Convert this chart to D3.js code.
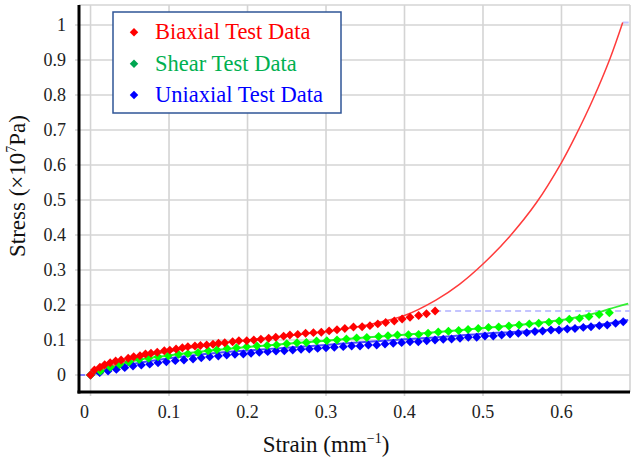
<!DOCTYPE html>
<html>
<head>
<meta charset="utf-8">
<script src="https://cdn.jsdelivr.net/npm/d3@7"></script>
<style>
  html, body { margin: 0; padding: 0; background: #fff; }
  svg { display: block; }
  svg text { font-family: "Liberation Serif", "Times New Roman", Times, "DejaVu Serif", serif; }
</style>
</head>
<body>
<div id="chart"></div>
<script>
// measured test data: [strain, stress (x10^7 Pa)]
const biaxialData = [
  [0, 0], [0.005, 0.014], [0.012, 0.022], [0.018, 0.029], [0.025, 0.035], [0.032, 0.040],
  [0.039, 0.043], [0.048, 0.048], [0.055, 0.052], [0.063, 0.055], [0.070, 0.060], [0.077, 0.062],
  [0.085, 0.065], [0.094, 0.069], [0.101, 0.071], [0.109, 0.074], [0.117, 0.078], [0.124, 0.081],
  [0.133, 0.083], [0.140, 0.084], [0.148, 0.086], [0.156, 0.088], [0.163, 0.0905], [0.171, 0.092],
  [0.181, 0.095], [0.189, 0.098], [0.199, 0.098], [0.208, 0.100], [0.217, 0.102], [0.227, 0.105],
  [0.236, 0.108], [0.246, 0.111], [0.254, 0.114], [0.264, 0.116], [0.274, 0.119], [0.284, 0.121],
  [0.294, 0.122], [0.304, 0.126], [0.314, 0.129], [0.324, 0.133], [0.335, 0.137], [0.346, 0.138],
  [0.356, 0.141], [0.366, 0.146], [0.376, 0.150], [0.387, 0.154], [0.397, 0.160], [0.407, 0.165],
  [0.418, 0.170], [0.428, 0.175], [0.439, 0.183]
];

const shearData = [
  [0, 0], [0.0125, 0.011], [0.025, 0.022], [0.037, 0.030], [0.049, 0.037], [0.062, 0.044],
  [0.074, 0.048], [0.086, 0.052], [0.099, 0.055], [0.112, 0.059], [0.124, 0.061], [0.137, 0.064],
  [0.150, 0.069], [0.161, 0.072], [0.174, 0.076], [0.186, 0.078], [0.199, 0.081], [0.212, 0.083],
  [0.225, 0.084], [0.237, 0.086], [0.250, 0.089], [0.263, 0.092], [0.275, 0.093], [0.288, 0.097],
  [0.301, 0.098], [0.314, 0.100], [0.326, 0.103], [0.339, 0.106], [0.352, 0.107], [0.367, 0.110],
  [0.379, 0.112], [0.391, 0.114], [0.405, 0.115], [0.418, 0.116], [0.430, 0.119], [0.443, 0.123],
  [0.456, 0.125], [0.469, 0.127], [0.481, 0.130], [0.494, 0.133], [0.507, 0.136], [0.520, 0.137],
  [0.533, 0.140], [0.546, 0.143], [0.559, 0.146], [0.571, 0.148], [0.584, 0.151], [0.597, 0.154],
  [0.610, 0.159], [0.623, 0.162], [0.635, 0.167], [0.648, 0.173], [0.661, 0.178]
];

const uniaxialData = [
  [0, 0], [0.0117, 0.0067], [0.0223, 0.0114], [0.0329, 0.016], [0.0436, 0.021], [0.0541, 0.0257],
  [0.0647, 0.0286], [0.0754, 0.031], [0.086, 0.035], [0.0966, 0.038], [0.108, 0.041], [0.119, 0.043],
  [0.1306, 0.0457], [0.1411, 0.0495], [0.1518, 0.052], [0.1628, 0.0543], [0.1735, 0.0571], [0.184, 0.059],
  [0.1947, 0.060], [0.2045, 0.062], [0.215, 0.065], [0.2257, 0.0667], [0.2363, 0.0686], [0.2469, 0.0695],
  [0.2576, 0.0714], [0.2682, 0.0733], [0.2787, 0.0743], [0.2894, 0.076], [0.300, 0.078], [0.3106, 0.079],
  [0.322, 0.081], [0.3327, 0.083], [0.3433, 0.083], [0.354, 0.0857], [0.3646, 0.0857], [0.3752, 0.0886],
  [0.3857, 0.0905], [0.3964, 0.0924], [0.407, 0.0952], [0.4176, 0.0952], [0.4283, 0.098], [0.4389, 0.100],
  [0.4494, 0.102], [0.460, 0.1029], [0.4707, 0.1048], [0.4813, 0.1076], [0.492, 0.1076], [0.5025, 0.1114],
  [0.5131, 0.1114], [0.5238, 0.1143], [0.5344, 0.1171], [0.545, 0.119], [0.5557, 0.121], [0.5662, 0.124],
  [0.576, 0.1257], [0.5866, 0.1286], [0.5968, 0.1286], [0.6074, 0.1314], [0.6172, 0.133], [0.6278, 0.136],
  [0.6376, 0.138], [0.6482, 0.141], [0.6583, 0.143], [0.669, 0.1476], [0.6787, 0.152]
];

// fitted model curves
const biaxialFit = [
  [0, 0], [0.02, 0.021], [0.05, 0.043], [0.1, 0.067], [0.15, 0.086], [0.2, 0.1], [0.25, 0.112],
  [0.3, 0.124], [0.35, 0.142], [0.4, 0.17], [0.44, 0.214], [0.47, 0.259], [0.5, 0.317], [0.534, 0.396],
  [0.568, 0.492], [0.6, 0.607], [0.619, 0.688], [0.64, 0.787], [0.662, 0.905], [0.678, 1.007]
];
const shearFit = [
  [0, 0], [0.05, 0.038], [0.1, 0.056], [0.15, 0.069], [0.2, 0.08], [0.25, 0.089], [0.3, 0.098],
  [0.35, 0.107], [0.4, 0.115], [0.45, 0.124], [0.5, 0.134], [0.55, 0.144], [0.6, 0.157], [0.63, 0.17],
  [0.648, 0.179], [0.66, 0.188], [0.685, 0.204]
];
const uniaxialFit = [
  [0, 0], [0.05, 0.03], [0.1, 0.048], [0.16, 0.063], [0.2, 0.07], [0.25, 0.078], [0.3, 0.086],
  [0.34, 0.093], [0.4, 0.102], [0.45, 0.109], [0.5, 0.118], [0.55, 0.124], [0.6, 0.132], [0.65, 0.144],
  [0.685, 0.157]
];

const xTicks = [0, 0.1, 0.2, 0.3, 0.4, 0.5, 0.6];
const yTicks = [0, 0.1, 0.2, 0.3, 0.4, 0.5, 0.6, 0.7, 0.8, 0.9, 1];
const legendItems = [
  { label: "Biaxial Test Data", marker: "#ff0000", text: "#ff0000" },
  { label: "Shear Test Data", marker: "#00a651", text: "#00b050" },
  { label: "Uniaxial Test Data", marker: "#0000ff", text: "#0000ff" }
];

const width = 631;
const height = 459;
const plot = { left: 79, right: 630, top: 5, bottom: 392 };
const serif = "'Liberation Serif', 'Times New Roman', Times, 'DejaVu Serif', serif";

const svg = d3.select("#chart").append("svg").attr("width", width).attr("height", height)
  .attr("font-family", serif);

const x = d3.scaleLinear().domain([-0.0147, 0.6873]).range([plot.left, plot.right]);
const y = d3.scaleLinear().domain([-0.0486, 1.0571]).range([plot.bottom, plot.top]);

// grid
const grid = svg.append("g").attr("stroke", "#d4d4d4").attr("stroke-width", 1.6);
grid.selectAll(".gx").data(xTicks).join("line")
  .attr("x1", (d) => x(d)).attr("x2", (d) => x(d))
  .attr("y1", plot.top).attr("y2", plot.bottom + 4);
grid.selectAll(".gy").data(yTicks).join("line")
  .attr("x1", plot.left - 4).attr("x2", plot.right)
  .attr("y1", (d) => y(d)).attr("y2", (d) => y(d));
grid.append("line").attr("x1", plot.left).attr("x2", plot.right).attr("y1", plot.top).attr("y2", plot.top);
grid.append("line").attr("x1", plot.right).attr("x2", plot.right).attr("y1", plot.top).attr("y2", plot.bottom);

// dashed extensions of the curves
const xMin = x.domain()[0];
const xMax = x.domain()[1];
const lastBiaxial = biaxialData[biaxialData.length - 1];
const lastFit = biaxialFit[biaxialFit.length - 1];
const extensions = [
  { from: [xMin, 0], to: [0, 0], color: "#8080ff" },
  { from: lastBiaxial, to: [xMax, lastBiaxial[1]], color: "#c4c4ff" },
  { from: lastFit, to: [xMax, lastFit[1]], color: "#c4c4ff" }
];
svg.append("g").selectAll("line").data(extensions).join("line")
  .attr("x1", (d) => x(d.from[0])).attr("y1", (d) => y(d.from[1]))
  .attr("x2", (d) => x(d.to[0])).attr("y2", (d) => y(d.to[1]))
  .attr("stroke", (d) => d.color).attr("stroke-width", 2).attr("stroke-dasharray", "6,4");

const line = d3.line().curve(d3.curveCatmullRom.alpha(0.5)).x((d) => x(d[0])).y((d) => y(d[1]));

const fits = [
  { values: uniaxialFit, color: "#4a4aff", w: 2 },
  { values: shearFit, color: "#33ee33", w: 2 },
  { values: biaxialFit, color: "#ff3b3b", w: 1.5 }
];
svg.append("g").selectAll("path").data(fits).join("path")
  .attr("fill", "none").attr("stroke", (d) => d.color).attr("stroke-width", (d) => d.w)
  .attr("d", (d) => line(d.values));

const diamond = d3.symbol().type(d3.symbolSquare).size(40);
const series = [
  { values: uniaxialData, color: "#0000ff" },
  { values: shearData, color: "#00ff00" },
  { values: biaxialData, color: "#ff0000" }
];
series.forEach((s) => {
  svg.append("g").selectAll("path").data(s.values).join("path")
    .attr("d", diamond)
    .attr("fill", s.color)
    .attr("transform", (d) => `translate(${x(d[0])},${y(d[1])}) rotate(45)`);
});

// axes
svg.append("line").attr("x1", plot.left).attr("x2", plot.left).attr("y1", plot.top).attr("y2", plot.bottom + 1.5)
  .attr("stroke", "#000").attr("stroke-width", 3);
svg.append("line").attr("x1", plot.left - 1.5).attr("x2", plot.right).attr("y1", plot.bottom).attr("y2", plot.bottom)
  .attr("stroke", "#000").attr("stroke-width", 3);

svg.append("g").selectAll("text").data(yTicks).join("text")
  .attr("x", 66).attr("y", (d) => y(d)).attr("dy", "0.35em")
  .attr("text-anchor", "end").attr("font-size", 18).attr("fill", "#222")
  .attr("font-family", serif)
  .text((d) => d3.format("")(d));

svg.append("g").selectAll("text").data(xTicks).join("text")
  .attr("x", (d) => x(d) + (d === 0 ? -6 : 0)).attr("y", 418)
  .attr("text-anchor", "middle").attr("font-size", 18).attr("fill", "#222")
  .attr("font-family", serif)
  .text((d) => d3.format("")(d));

// axis titles
const xTitle = svg.append("text").attr("x", 326).attr("y", 452).attr("text-anchor", "middle")
  .attr("font-size", 23).attr("fill", "#111").attr("font-family", serif);
xTitle.append("tspan").text("Strain (mm");
xTitle.append("tspan").attr("font-size", 14).attr("dy", -9).text("\u22121");
xTitle.append("tspan").attr("dy", 9).text(")");

const yTitle = svg.append("text").attr("transform", "translate(25,186) rotate(-90)").attr("text-anchor", "middle")
  .attr("font-size", 23).attr("fill", "#111").attr("font-family", serif);
yTitle.append("tspan").text("Stress (\u00d710");
yTitle.append("tspan").attr("font-size", 14).attr("dy", -9).text("7");
yTitle.append("tspan").attr("dy", 9).text("Pa)");

// legend
const legend = svg.append("g");
legend.append("rect").attr("x", 113).attr("y", 12).attr("width", 228).attr("height", 101)
  .attr("fill", "#fff").attr("stroke", "#2f5597").attr("stroke-width", 1.5);
const rows = legend.selectAll("g").data(legendItems).join("g")
  .attr("transform", (d, i) => `translate(0,${32.3 + i * 31.4})`);
rows.append("path").attr("d", d3.symbol().type(d3.symbolSquare).size(36))
  .attr("transform", "translate(134,0) rotate(45)")
  .attr("fill", (d) => d.marker);
rows.append("text").attr("x", 155).attr("y", 7).attr("font-size", 22.5)
  .attr("font-family", serif)
  .attr("fill", (d) => d.text).text((d) => d.label);
</script>
</body>
</html>
